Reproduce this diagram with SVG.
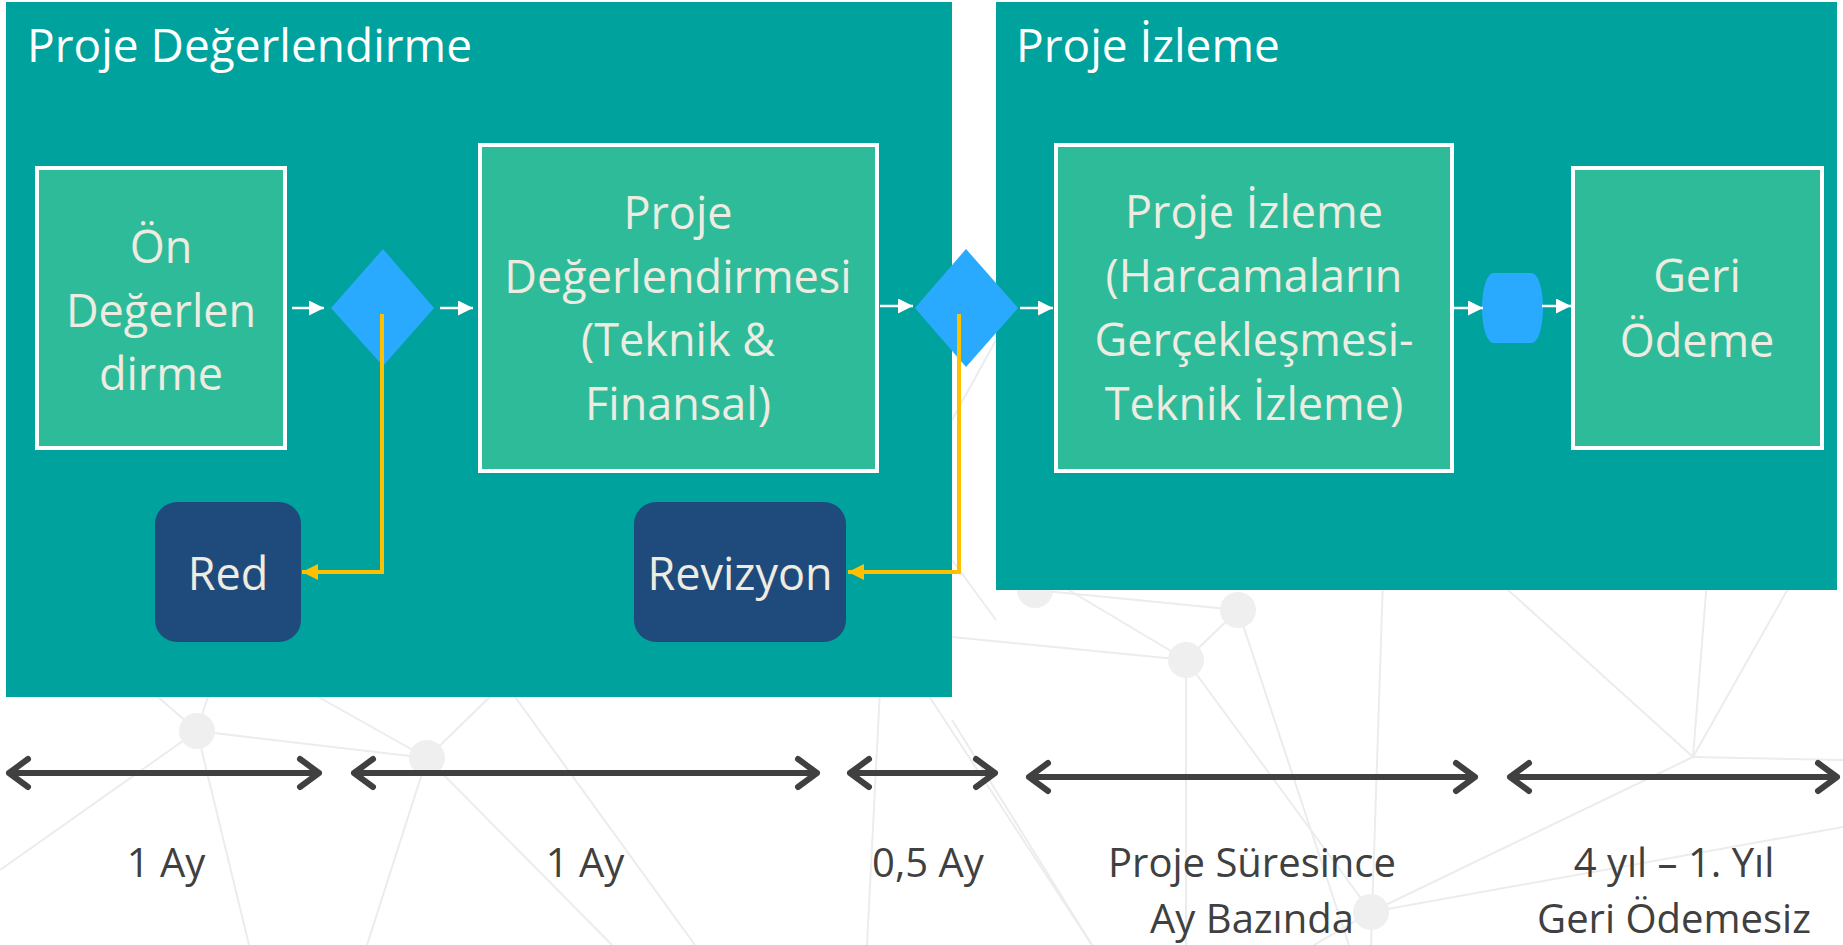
<svg xmlns="http://www.w3.org/2000/svg" width="1843" height="945" viewBox="0 0 1843 945">
  <style>
    .bgl { stroke: #ececec; stroke-width: 2; fill: none; }
    .bgc { fill: #efefef; }
    .panel { fill: #00A29D; }
    .box { fill: #2EBB9A; stroke: #ffffff; stroke-width: 4; }
    .dia { fill: #2AAAFF; }
    .dark { fill: #1F4A7C; }
    .title { font-family: "Open Sans", "Liberation Sans", sans-serif; font-size: 46px; fill: #ffffff; }
    .lbl { font-family: "Open Sans", "Liberation Sans", sans-serif; font-size: 45px; fill: #EEECE1; text-anchor: middle; }
    .tl { font-family: "Open Sans", "Liberation Sans", sans-serif; font-size: 40px; fill: #404040; text-anchor: middle; }
    .wa { stroke: #ffffff; stroke-width: 2.5; fill: none; marker-end: url(#wh); }
    .ya { stroke: #FFC000; stroke-width: 4; fill: none; marker-end: url(#yh); }
    .ta { stroke: #404040; stroke-width: 6; fill: none; stroke-linecap: round; stroke-linejoin: round; }
  </style>
  <defs>
    <marker id="wh" viewBox="0 0 10 10" refX="10" refY="5" markerUnits="userSpaceOnUse" markerWidth="15" markerHeight="15" orient="auto">
      <path d="M0,0 L10,5 L0,10 Z" fill="#ffffff"/>
    </marker>
    <marker id="yh" viewBox="0 0 10 10" refX="10" refY="5" markerUnits="userSpaceOnUse" markerWidth="16" markerHeight="16" orient="auto">
      <path d="M0,0 L10,5 L0,10 Z" fill="#FFC000"/>
    </marker>
  </defs>
  <rect x="0" y="0" width="1843" height="945" fill="#ffffff"/>

  <g id="background">
    <line class="bgl" x1="197" y1="731" x2="427" y2="758"/>
    <line class="bgl" x1="197" y1="731" x2="0" y2="870"/>
    <line class="bgl" x1="197" y1="731" x2="249" y2="945"/>
    <line class="bgl" x1="197" y1="731" x2="150" y2="690"/>
    <line class="bgl" x1="197" y1="731" x2="210" y2="690"/>
    <line class="bgl" x1="427" y1="758" x2="367" y2="945"/>
    <line class="bgl" x1="427" y1="758" x2="612" y2="945"/>
    <line class="bgl" x1="427" y1="758" x2="497" y2="690"/>
    <line class="bgl" x1="427" y1="758" x2="306" y2="690"/>
    <line class="bgl" x1="510" y1="690" x2="695" y2="945"/>
    <line class="bgl" x1="880" y1="690" x2="867" y2="945"/>
    <line class="bgl" x1="925" y1="690" x2="1092" y2="945"/>
    <line class="bgl" x1="952" y1="637" x2="1186" y2="660"/>
    <line class="bgl" x1="1238" y1="610" x2="1186" y2="660"/>
    <line class="bgl" x1="1052" y1="580" x2="1186" y2="660"/>
    <line class="bgl" x1="1035" y1="590" x2="1238" y2="610"/>
    <line class="bgl" x1="1186" y1="660" x2="1186" y2="945"/>
    <line class="bgl" x1="1186" y1="660" x2="1371" y2="912"/>
    <line class="bgl" x1="1238" y1="610" x2="1349" y2="945"/>
    <line class="bgl" x1="1383" y1="580" x2="1371" y2="945"/>
    <line class="bgl" x1="1497" y1="580" x2="1693" y2="757"/>
    <line class="bgl" x1="1707" y1="580" x2="1693" y2="757"/>
    <line class="bgl" x1="1793" y1="580" x2="1693" y2="757"/>
    <line class="bgl" x1="1693" y1="757" x2="1843" y2="760"/>
    <line class="bgl" x1="1693" y1="757" x2="1371" y2="912"/>
    <line class="bgl" x1="1371" y1="912" x2="1843" y2="827"/>
    <line class="bgl" x1="1371" y1="912" x2="1314" y2="945"/>
    <line class="bgl" x1="952" y1="720" x2="1092" y2="945"/>
    <line class="bgl" x1="952" y1="420" x2="996" y2="340"/>
    <line class="bgl" x1="952" y1="560" x2="996" y2="620"/>
    <circle class="bgc" cx="197" cy="731" r="18"/>
    <circle class="bgc" cx="427" cy="758" r="18"/>
    <circle class="bgc" cx="1238" cy="610" r="18"/>
    <circle class="bgc" cx="1186" cy="660" r="18"/>
    <circle class="bgc" cx="1371" cy="912" r="18"/>
    <circle class="bgc" cx="1035" cy="590" r="18"/>
  </g>

  <g id="panel-degerlendirme">
    <rect class="panel" x="6" y="2" width="946" height="695"/>
    <text class="title" x="27" y="62">Proje Değerlendirme</text>
  </g>
  <g id="panel-izleme">
    <rect class="panel" x="996" y="2" width="841" height="588"/>
    <text class="title" x="1016" y="62">Proje İzleme</text>
  </g>

  <g id="node-on-degerlendirme">
    <rect class="box" x="37" y="168" width="248" height="280"/>
    <text class="lbl" x="161" y="263">Ön</text>
    <text class="lbl" x="161" y="327">Değerlen</text>
    <text class="lbl" x="161" y="390">dirme</text>
  </g>
  <g id="node-karar1">
    <polygon class="dia" points="383,249 434,308 383,366 331,308"/>
  </g>
  <g id="node-proje-degerlendirmesi">
    <rect class="box" x="480" y="145" width="397" height="326"/>
    <text class="lbl" x="678" y="229">Proje</text>
    <text class="lbl" x="678" y="293">Değerlendirmesi</text>
    <text class="lbl" x="678" y="356">(Teknik &amp;</text>
    <text class="lbl" x="678" y="420">Finansal)</text>
  </g>
  <g id="node-karar2">
    <polygon class="dia" points="966,249 1018,308 966,367 915,308"/>
  </g>
  <g id="node-red">
    <rect class="dark" x="155" y="502" width="146" height="140" rx="22" ry="22"/>
    <text class="lbl" x="228" y="590">Red</text>
  </g>
  <g id="node-revizyon">
    <rect class="dark" x="634" y="502" width="212" height="140" rx="22" ry="22"/>
    <text class="lbl" x="740" y="590">Revizyon</text>
  </g>
  <g id="node-proje-izleme">
    <rect class="box" x="1056" y="145" width="396" height="326"/>
    <text class="lbl" x="1254" y="228">Proje İzleme</text>
    <text class="lbl" x="1254" y="292">(Harcamaların</text>
    <text class="lbl" x="1254" y="356">Gerçekleşmesi-</text>
    <text class="lbl" x="1254" y="420">Teknik İzleme)</text>
  </g>
  <g id="node-ara">
    <path class="dia" d="M1494,273 H1531 C1540,273 1543,295 1543,308 C1543,321 1540,343 1531,343 H1494 C1485,343 1482,321 1482,308 C1482,295 1485,273 1494,273 Z"/>
  </g>
  <g id="node-geri-odeme">
    <rect class="box" x="1573" y="168" width="249" height="280"/>
    <text class="lbl" x="1697" y="292">Geri</text>
    <text class="lbl" x="1697" y="357">Ödeme</text>
  </g>

  <g id="connectors">
    <line class="wa" x1="292" y1="308" x2="324" y2="308"/>
    <line class="wa" x1="440" y1="308" x2="473" y2="308"/>
    <line class="wa" x1="880" y1="306" x2="913" y2="306"/>
    <line class="wa" x1="1020" y1="308" x2="1053" y2="308"/>
    <line class="wa" x1="1454" y1="308" x2="1483" y2="308"/>
    <line class="wa" x1="1542" y1="306" x2="1571" y2="306"/>
    <polyline class="ya" points="382,314 382,572 302,572"/>
    <polyline class="ya" points="959,314 959,572 848,572"/>
  </g>

  <g id="timeline">
    <path class="ta" d="M9,773 H319 M28,759 L9,773 L28,787 M300,759 L319,773 L300,787"/>
    <path class="ta" d="M354,773 H817 M373,759 L354,773 L373,787 M798,759 L817,773 L798,787"/>
    <path class="ta" d="M850,773 H995 M869,759 L850,773 L869,787 M976,759 L995,773 L976,787"/>
    <path class="ta" d="M1029,777 H1475 M1048,763 L1029,777 L1048,791 M1456,763 L1475,777 L1456,791"/>
    <path class="ta" d="M1510,777 H1837 M1529,763 L1510,777 L1529,791 M1818,763 L1837,777 L1818,791"/>
    <text class="tl" x="166" y="877">1 Ay</text>
    <text class="tl" x="585" y="877">1 Ay</text>
    <text class="tl" x="928" y="877">0,5 Ay</text>
    <text class="tl" x="1252" y="877">Proje Süresince</text>
    <text class="tl" x="1252" y="933">Ay Bazında</text>
    <text class="tl" x="1674" y="877">4 yıl – 1. Yıl</text>
    <text class="tl" x="1674" y="933">Geri Ödemesiz</text>
  </g>
</svg>
